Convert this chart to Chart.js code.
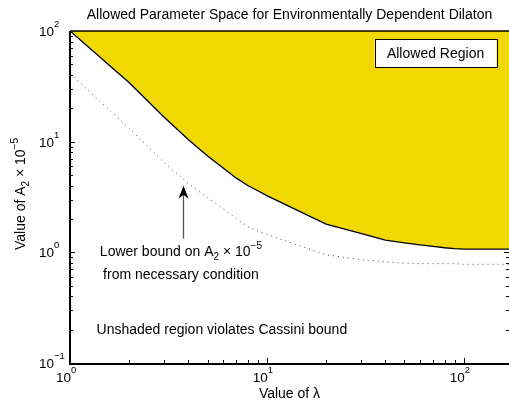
<!DOCTYPE html>
<html>
<head>
<meta charset="utf-8">
<script src="https://cdn.jsdelivr.net/npm/chart.js@4"></script>
<style>
html,body{margin:0;padding:0;background:#fff;}
#wrap{width:509px;height:400px;position:relative;}
</style>
</head>
<body>
<div id="wrap"><canvas id="myChart"></canvas></div>
<script>
// values of lambda where the bounds were read
const lambdaVals = [1, 2, 3, 4, 5, 6, 7, 8, 9, 10, 20, 30, 40, 50, 60, 70, 80, 90, 100, 170];
// edge of allowed (shaded) region, A2 x 1e-5
const allowedBound = [100, 34, 16.7, 10.4, 7.43, 5.78, 4.68, 4.02, 3.6, 3.25, 1.8, 1.48, 1.29, 1.22, 1.17, 1.13, 1.1, 1.08, 1.07, 1.07];
// lower bound from necessary condition (dotted)
const necessaryBound = [41, 13.2, 6.5, 4.17, 3.12, 2.47, 2.03, 1.71, 1.56, 1.45, 0.95, 0.86, 0.82, 0.8, 0.79, 0.79, 0.79, 0.79, 0.78, 0.78];

const xTickVals = [1, 10, 100];
const xTickExps = ['0', '1', '2'];
const yTickVals = [0.1, 1, 10, 100];
const yTickExps = ['\u22121', '0', '1', '2'];

const FONT = '"Liberation Sans", Arial, Helvetica, sans-serif';
function font(px) { return px + 'px ' + FONT; }

// draw text made of pieces [text, size, dy]
function drawRich(ctx, parts, x, y, align) {
  let w = 0;
  parts.forEach(function(p) { ctx.font = font(p[1]); w += ctx.measureText(p[0]).width; });
  let cx = align === 'center' ? x - w / 2 : (align === 'right' ? x - w : x);
  ctx.textAlign = 'left';
  ctx.textBaseline = 'alphabetic';
  parts.forEach(function(p) {
    ctx.font = font(p[1]);
    ctx.fillText(p[0], cx, y + p[2]);
    cx += ctx.measureText(p[0]).width;
  });
}

function minorVals(min, max) {
  const out = [];
  for (let e = -1; e <= 2; e++) {
    for (let m = 1; m < 10; m++) {
      const v = m * Math.pow(10, e);
      if (v >= min * 0.999 && v <= max * 1.001) out.push({ v: v, major: m === 1 });
    }
  }
  return out;
}

const tickPlugin = {
  id: 'ticks',
  beforeDatasetsDraw(chart) {
    const ctx = chart.ctx, a = chart.chartArea, x = chart.scales.x, y = chart.scales.y;
    ctx.save();
    ctx.strokeStyle = '#000';
    ctx.lineWidth = 1;
    ctx.beginPath();
    minorVals(x.min, x.max).forEach(function(t) {
      const px = Math.round(x.getPixelForValue(t.v)) + 0.5;
      const len = t.major ? 5 : 3;
      ctx.moveTo(px, a.bottom); ctx.lineTo(px, a.bottom - len);
      ctx.moveTo(px, a.top); ctx.lineTo(px, a.top + len);
    });
    minorVals(y.min, y.max).forEach(function(t) {
      const py = Math.round(y.getPixelForValue(t.v)) + 0.5;
      const len = t.major ? 5 : 3;
      ctx.moveTo(a.left, py); ctx.lineTo(a.left + len, py);
      ctx.moveTo(a.right, py); ctx.lineTo(a.right - len, py);
    });
    ctx.stroke();
    ctx.restore();
  },
  afterDatasetsDraw(chart) {
    const ctx = chart.ctx, a = chart.chartArea, x = chart.scales.x, y = chart.scales.y;
    ctx.save();
    ctx.strokeStyle = '#000';
    // frame
    ctx.lineWidth = 2;
    ctx.beginPath();
    ctx.moveTo(a.left, a.top); ctx.lineTo(a.left, a.bottom + 1); ctx.lineTo(a.right, a.bottom + 1);
    ctx.stroke();
    ctx.lineWidth = 1.5;
    ctx.beginPath();
    ctx.moveTo(a.left, a.top); ctx.lineTo(a.right, a.top);
    ctx.stroke();

    ctx.fillStyle = '#000';
    // x tick labels
    xTickVals.forEach(function(v, i) {
      const px = x.getPixelForValue(v);
      drawRich(ctx, [['10', 13.5, 0]], px + 1, 382, 'right');
      drawRich(ctx, [[xTickExps[i], 9.5, 0]], px + 1, 373, 'left');
    });
    // y tick labels
    yTickVals.forEach(function(v, i) {
      const py = y.getPixelForValue(v);
      drawRich(ctx, [['10', 13.5, 0]], a.left - 16, py + 5, 'right');
      drawRich(ctx, [[yTickExps[i], 9.5, 0]], a.left - 16, py - 4, 'left');
    });

    // title
    drawRich(ctx, [['Allowed Parameter Space for Environmentally Dependent Dilaton', 14, 0]], (a.left + a.right) / 2, 19, 'center');
    // x axis title
    drawRich(ctx, [['Value of \u03bb', 14, 0]], (a.left + a.right) / 2, 398, 'center');
    // y axis title
    ctx.save();
    ctx.translate(25, (a.top + a.bottom) / 2 - 3);
    ctx.rotate(-Math.PI / 2);
    drawRich(ctx, [['Value of A', 14, 0], ['2', 10, 4], [' \u00d7 10', 14, 0], ['\u22125', 10, -7]], 0, 0, 'center');
    ctx.restore();

    // "Allowed Region" box
    const bx = x.getPixelForValue(72), by = y.getPixelForValue(63);
    ctx.fillStyle = '#fff';
    ctx.fillRect(bx - 61, by - 14, 122, 28);
    ctx.lineWidth = 1;
    ctx.strokeRect(Math.round(bx - 61) + 0.5, Math.round(by - 14) + 0.5, 122, 28);
    ctx.fillStyle = '#000';
    drawRich(ctx, [['Allowed Region', 14, 0]], bx, by + 5, 'center');

    // arrow to the dotted curve
    const ax = Math.round(x.getPixelForValue(3.75)) + 0.5;
    const ay0 = y.getPixelForValue(1.33), ay1 = y.getPixelForValue(4.0);
    ctx.strokeStyle = '#555';
    ctx.lineWidth = 1.3;
    ctx.beginPath(); ctx.moveTo(ax, ay0); ctx.lineTo(ax, ay1 + 6); ctx.stroke();
    ctx.fillStyle = '#000';
    ctx.beginPath();
    ctx.moveTo(ax, ay1);
    ctx.lineTo(ax - 5, ay1 + 13);
    ctx.lineTo(ax, ay1 + 9);
    ctx.lineTo(ax + 5, ay1 + 13);
    ctx.closePath();
    ctx.fill();

    // annotation texts
    const tx = x.getPixelForValue(3.66);
    drawRich(ctx, [['Lower bound on A', 14, 0], ['2', 10, 4], [' \u00d7 10', 14, 0], ['\u22125', 10, -7]], tx, y.getPixelForValue(1.03) + 5, 'center');
    drawRich(ctx, [['from necessary condition', 14, 0]], tx, y.getPixelForValue(0.64) + 5, 'center');
    drawRich(ctx, [['Unshaded region violates Cassini bound', 14, 0]], x.getPixelForValue(5.91), y.getPixelForValue(0.203) + 5, 'center');
    ctx.restore();
  }
};

const ctx = document.getElementById('myChart').getContext('2d');
const chart = new Chart(ctx, {
  type: 'line',
  data: {
    datasets: [{
      data: lambdaVals.map(function(l, i) { return { x: l, y: allowedBound[i] }; }),
      borderColor: '#000',
      borderWidth: 1.3,
      backgroundColor: '#f0d800',
      fill: 'end',
      pointRadius: 0,
      tension: 0
    }, {
      data: lambdaVals.map(function(l, i) { return { x: l, y: necessaryBound[i] }; }),
      borderColor: '#444',
      borderWidth: 1,
      borderDash: [1, 4],
      fill: false,
      pointRadius: 0,
      tension: 0
    }]
  },
  options: {
    responsive: true,
    maintainAspectRatio: false,
    animation: false,
    layout: { padding: { left: 70, right: 0, top: 31, bottom: 37 } },
    plugins: { legend: { display: false }, tooltip: { enabled: false } },
    scales: {
      x: { type: 'logarithmic', min: 1, max: 170, display: false },
      y: { type: 'logarithmic', min: 0.1, max: 100, display: false }
    }
  },
  plugins: [tickPlugin]
});
</script>
</body>
</html>
